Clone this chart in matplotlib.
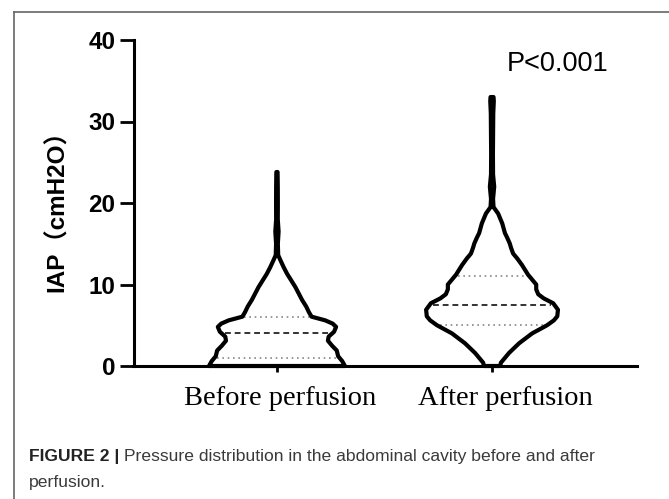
import numpy as np
import matplotlib as mpl
mpl.use('Agg')
from matplotlib import pyplot as plt
from matplotlib.lines import Line2D
import matplotlib.transforms as mtransforms

# ---- data ------------------------------------------------------------------
groups    = ['Before perfusion', 'After perfusion']
yticks    = [0, 10, 20, 30, 40]

# violin outlines: IAP level (cmH2O) and relative half-width of the density
before_lvl  = [0.0, 0.6, 1.2, 1.9, 2.5, 3.1, 3.6, 4.2, 4.8, 5.2, 5.6, 6.05, 6.6, 7.3,
               8.1, 8.9, 9.7, 10.5, 11.3, 12.1, 13.0, 13.6, 15.0, 16.5, 18.0, 20.0,
               22.0, 23.8]
before_dens = [1.00, 0.96, 0.90, 0.88, 0.81, 0.75, 0.76, 0.84, 0.87, 0.82, 0.71, 0.51,
               0.47, 0.43, 0.37, 0.32, 0.27, 0.21, 0.15, 0.10, 0.05, 0.018, 0.013,
               0.024, 0.012, 0.013, 0.012, 0.009]

after_lvl  = [0.0, 0.4, 1.6, 2.8, 4.0, 5.0, 5.6, 6.1, 6.9, 7.7, 8.3, 8.8, 9.4, 10.0,
              10.6, 11.2, 12.4, 13.2, 13.8, 14.5, 15.05, 15.8, 16.3, 17.5, 18.7, 19.5,
              20.5, 22.0, 23.5, 26.0, 28.0, 31.0, 32.5, 33.0]
after_dens = [0.12, 0.13, 0.25, 0.40, 0.59, 0.81, 0.91, 0.96, 0.97, 0.90, 0.76, 0.68,
              0.65, 0.65, 0.59, 0.53, 0.44, 0.37, 0.31, 0.28, 0.26, 0.22, 0.19, 0.15,
              0.09, 0.022, 0.015, 0.032, 0.015, 0.013, 0.015, 0.018, 0.026, 0.022]

# quartiles: Q1, median, Q3
before_q = [1.0, 4.0, 6.0]
after_q  = [5.0, 7.5, 11.0]

p_text   = 'P<0.001'
caption_bold = 'FIGURE 2 | '
caption_rest = 'Pressure distribution in the abdominal cavity before and after'
caption_2    = 'perfusion.'

# ---- figure ----------------------------------------------------------------
mpl.rcParams['font.family'] = ['Liberation Sans', 'DejaVu Sans']

W, H = 669, 499
fig = plt.figure(figsize=(W/100, H/100), dpi=100)
ax  = fig.add_axes([133.5/W, 1-366/H, (637-133.5)/W, (366-40)/H])

half = 0.316   # max half-width of a violin in category units

violins = [(before_lvl, before_dens, before_q), (after_lvl, after_dens, after_q)]
for c, (lvl, dens, q) in enumerate(violins):
    lvl  = np.asarray(lvl)
    w    = np.asarray(dens)*half
    xs   = np.concatenate([c - w, (c + w)[::-1]])
    ys   = np.concatenate([lvl, lvl[::-1]])
    ax.fill(xs, ys, facecolor='none', edgecolor='black', lw=3.0,
            joinstyle='round', capstyle='round', clip_on=False, zorder=3)
    for i, qv in enumerate(q):
        qw = np.interp(qv, lvl, dens)*half - 0.014
        if i == 1:
            ax.plot([c-qw, c+qw], [qv, qv], color='#333333', lw=1.4,
                    ls=(0, (3, 2)), zorder=2)
        else:
            ax.plot([c-qw, c+qw], [qv, qv], color='#888888', lw=1.2,
                    ls=(0, (1, 2.2)), zorder=2)

ax.set_xlim(-0.667, 1.674)
ax.set_ylim(0, 40)
for side in ['top', 'right']:
    ax.spines[side].set_visible(False)
for side in ['left', 'bottom']:
    ax.spines[side].set_linewidth(2.2)
    ax.spines[side].set_zorder(4)

ax.set_yticks(yticks)
ax.tick_params(axis='y', length=10, width=2, pad=3, labelsize=17.5)
for lab in ax.get_yticklabels():
    lab.set_fontweight('bold')
ax.set_xticks([0, 1])
ax.set_xticklabels([])
ax.tick_params(axis='x', length=4.5, width=2)

trans = mtransforms.blended_transform_factory(ax.transData, ax.transAxes)
for x, name in zip([0.014, 1.06], groups):
    ax.text(x, -0.12, name, transform=trans, ha='center', va='baseline',
            family='Liberation Serif', fontsize=20.5)

ax.text(-0.152, 0.495, 'IAP（cmH2O）', transform=ax.transAxes, rotation=90,
        ha='center', va='center', fontsize=17.5, fontweight='bold',
        family=['Liberation Sans', 'Noto Sans CJK SC'])

ax.text(1.305, 37.1, p_text, ha='center', va='center', fontsize=19.5)

# frame of the figure panel
fig.add_artist(Line2D([14/W, 14/W], [0, 1-12/H], transform=fig.transFigure,
                      color='#666666', lw=1.2))
fig.add_artist(Line2D([14/W, 1], [1-12/H, 1-12/H], transform=fig.transFigure,
                      color='#666666', lw=1.2))

# caption
cap_font = 'Liberation Sans'
t1 = fig.text(29/W, 1-461/H, caption_bold, fontsize=12.6, fontweight='bold',
              color='#222222', va='baseline', family=cap_font)
fig.canvas.draw()
bb = t1.get_window_extent(renderer=fig.canvas.get_renderer())
fig.text(bb.x1/W, 1-461/H, caption_rest, fontsize=12.6, color='#3a3a3a',
         va='baseline', family=cap_font)
fig.text(29/W, 1-487/H, caption_2, fontsize=12.6, color='#3a3a3a',
         va='baseline', family=cap_font)

fig.savefig('out.png', dpi=100)
